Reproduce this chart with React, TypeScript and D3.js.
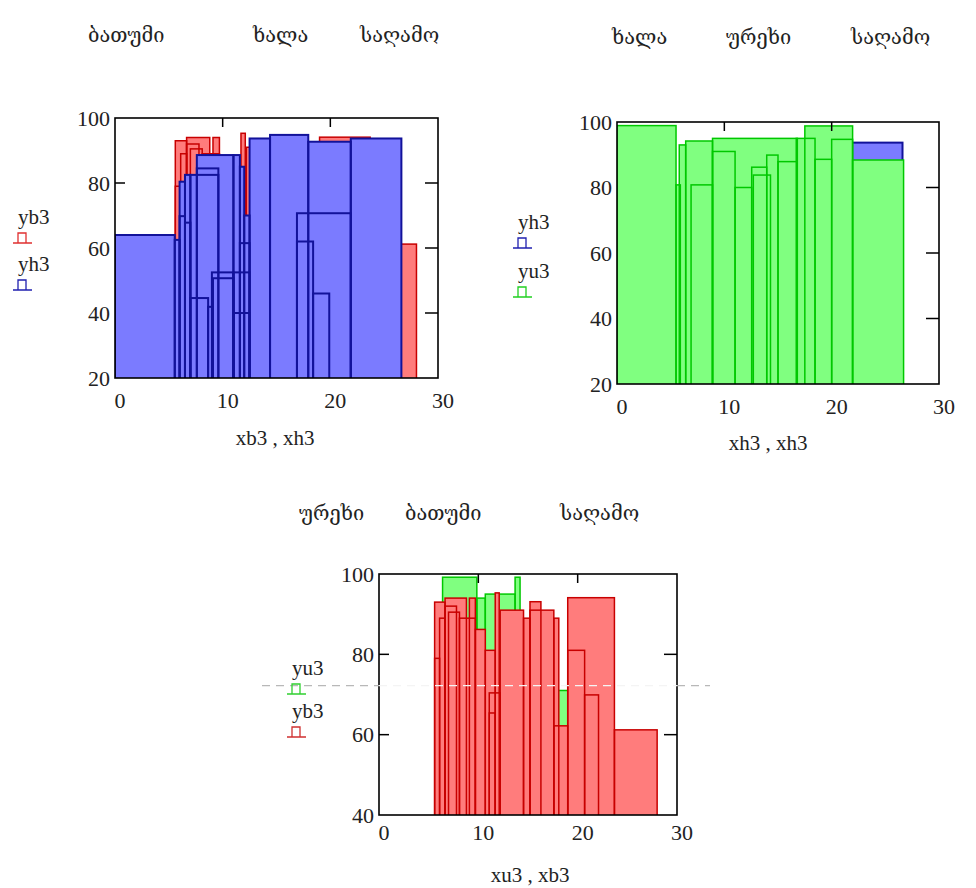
import React from "react";
import * as d3 from "d3";

// ---------- data ----------
const xTickValues = [0, 10, 20, 30];
const yTicksTop = [20, 40, 60, 80, 100];
const yTicksBottom = [40, 60, 80, 100];

// yb3 against xb3 (bar left edge, right edge, height)
const yb3Left = [5.6, 5.6, 6.1, 6.65, 6.65, 7.0, 8.1, 9.1, 9.7, 10.7, 11.1, 11.1, 11.7, 12.2, 14.55, 15.2, 15.2, 17.6, 17.6, 19.0, 19.0, 20.7, 23.7];
const yb3Right = [6.65, 6.1, 6.65, 8.8, 7.8, 8.1, 9.7, 9.7, 10.7, 11.7, 12.2, 11.7, 12.1, 14.55, 15.2, 16.3, 17.6, 18.1, 19.0, 23.7, 20.7, 22.1, 28.0];
const yb3 = [93, 79, 89, 94, 92, 90.5, 89, 94, 86.2, 81, 70.4, 65.4, 95.3, 91, 89, 93.1, 91, 89, 62.2, 94.1, 81, 69.9, 61.2];

// yh3 against xh3
const yh3Left = [0, 5.55, 6.0, 6.0, 6.5, 6.5, 7.0, 7.0, 7.6, 7.6, 8.65, 9.0, 9.1, 11.0, 11.0, 11.0, 11.6, 12.0, 11.6, 12.5, 14.4, 17.95, 16.9, 16.9, 18.4, 21.9];
const yh3Right = [5.55, 6.0, 6.5, 6.5, 7.0, 7.0, 9.6, 8.65, 9.6, 11.0, 9.05, 11.0, 11.0, 11.6, 12.5, 12.5, 12.0, 12.5, 12.5, 14.4, 17.95, 21.9, 21.9, 18.4, 19.9, 26.6];
const yh3 = [64, 62.5, 80.4, 69.8, 82.5, 67.8, 82.5, 44.6, 84.5, 88.6, 41.9, 52.5, 50.7, 88.6, 52.5, 40, 85, 70, 61.5, 93.7, 94.8, 92.7, 70.7, 62, 46, 93.7];

// yu3 against xh3
const yu3hLeft = [0, 5.5, 5.8, 6.4, 6.9, 8.9, 8.9, 11.0, 12.55, 12.7, 13.95, 15.0, 16.7, 17.5, 18.45, 20.0, 21.95];
const yu3hRight = [5.5, 5.9, 6.4, 8.9, 8.9, 16.8, 11.0, 12.55, 13.95, 14.3, 15.0, 16.75, 18.45, 21.95, 20.0, 21.95, 26.7];
const yu3h = [98.9, 80.8, 93, 94.2, 80.8, 95, 91, 80, 86.2, 83.8, 89.9, 87.9, 95, 98.8, 88.6, 94.7, 88.4];

// yu3 against xu3
const yu3Left = [6.4, 9.85, 10.7, 12.05, 13.7, 17.95];
const yu3Right = [9.85, 10.7, 12.05, 13.7, 14.2, 19.1];
const yu3 = [99.2, 94, 95, 95, 99.2, 71];

const markerValue = 72.2;

const titles1 = ["ბათუმი", "ხალა", "საღამო"];
const titles2 = ["ხალა", "ურეხი", "საღამო"];
const titles3 = ["ურეხი", "ბათუმი", "საღამო"];

// ---------- styles ----------
const RED = { fill: "#ff7c7c", stroke: "#c80000", sw: 1.5 };
const BLUE = { fill: "#7b7bff", stroke: "#12129a", sw: 2 };
const GREEN = { fill: "#80ff80", stroke: "#00c800", sw: 1.5 };
const SERIF = "'Liberation Serif', 'Times New Roman', serif";
const GEO = "'DejaVu Serif', 'DejaVu Sans', serif";

type Series = { left: number[]; right: number[]; height: number[]; fill: string; stroke: string; sw: number };

type PlotProps = {
  id: string;
  box: { x0: number; x1: number; y0: number; y1: number };
  yDomain: [number, number];
  yTicks: number[];
  series: Series[];
  xLabel: string;
  xLabelX: number;
  xLabelY: number;
  xTickLabelY: number;
};

function Plot({ id, box, yDomain, yTicks, series, xLabel, xLabelX, xLabelY, xTickLabelY }: PlotProps) {
  const x = d3.scaleLinear().domain([0, 30]).range([box.x0, box.x1]);
  const y = d3.scaleLinear().domain(yDomain).range([box.y1, box.y0]);
  const inner = xTickValues.filter((v) => v > 0 && v < 30);
  const innerY = yTicks.filter((v) => v > yDomain[0] && v < yDomain[1]);
  return (
    <g>
      <defs>
        <clipPath id={id}>
          <rect x={box.x0} y={box.y0} width={box.x1 - box.x0} height={box.y1 - box.y0} />
        </clipPath>
      </defs>
      {inner.map((v) => (
        <line key={"bt" + v} x1={x(v)} x2={x(v)} y1={box.y1} y2={box.y1 - 9} stroke="#000" strokeWidth={1.5} />
      ))}
      {innerY.map((v) => (
        <line key={"lt" + v} x1={box.x0} x2={box.x0 + 10} y1={y(v)} y2={y(v)} stroke="#000" strokeWidth={1.5} />
      ))}
      <g clipPath={`url(#${id})`}>
        {series.map((s, si) => (
          <g key={si}>
            {s.height.map((h, i) => (
              <rect
                key={"f" + i}
                x={x(s.left[i])}
                y={y(h)}
                width={x(s.right[i]) - x(s.left[i])}
                height={box.y1 + 5 - y(h)}
                fill={s.fill}
              />
            ))}
            {s.height.map((h, i) => (
              <rect
                key={"o" + i}
                x={x(s.left[i])}
                y={y(h)}
                width={x(s.right[i]) - x(s.left[i])}
                height={box.y1 + 5 - y(h)}
                fill="none"
                stroke={s.stroke}
                strokeWidth={s.sw}
              />
            ))}
          </g>
        ))}
      </g>
      {inner.map((v) => (
        <line key={"tt" + v} x1={x(v)} x2={x(v)} y1={box.y0} y2={box.y0 + 9} stroke="#000" strokeWidth={1.5} />
      ))}
      {innerY.map((v) => (
        <line key={"rt" + v} x1={box.x1} x2={box.x1 - 13} y1={y(v)} y2={y(v)} stroke="#000" strokeWidth={1.5} />
      ))}
      <rect x={box.x0} y={box.y0} width={box.x1 - box.x0} height={box.y1 - box.y0} fill="none" stroke="#000" strokeWidth={1.6} />
      {xTickValues.map((v) => (
        <text key={"xl" + v} x={x(v) + 5} y={xTickLabelY} textAnchor="middle" fontFamily={SERIF} fontSize={22} fill="#222">
          {v}
        </text>
      ))}
      {yTicks.map((v) => (
        <text key={"yl" + v} x={box.x0 - 5} y={y(v)} dy="0.35em" textAnchor="end" fontFamily={SERIF} fontSize={22} fill="#222">
          {v}
        </text>
      ))}
      <text x={xLabelX} y={xLabelY} textAnchor="middle" fontFamily={SERIF} fontSize={21} fill="#222">
        {xLabel}
      </text>
    </g>
  );
}

function LegendItem({ x, y, label, color }: { x: number; y: number; label: string; color: string }) {
  const sx = x - 5;
  const sy = y + 19;
  return (
    <g>
      <text x={x} y={y} fontFamily={SERIF} fontSize={21} fill="#222">
        {label}
      </text>
      <path
        d={`M${sx},${sy} H${sx + 19} M${sx + 5},${sy} V${sy - 10} H${sx + 13} V${sy}`}
        fill="none"
        stroke={color}
        strokeWidth={1.3}
      />
    </g>
  );
}

function Titles({ words, xs, y }: { words: string[]; xs: number[]; y: number }) {
  return (
    <g>
      {words.map((w, i) => (
        <text key={i} x={xs[i]} y={y} fontFamily={GEO} fontSize={20} fill="#222">
          {w}
        </text>
      ))}
    </g>
  );
}

export default function App() {
  const redB = { left: yb3Left, right: yb3Right, height: yb3, ...RED };
  const blueH = { left: yh3Left, right: yh3Right, height: yh3, ...BLUE };
  const greenH = { left: yu3hLeft, right: yu3hRight, height: yu3h, ...GREEN };
  const greenU = { left: yu3Left, right: yu3Right, height: yu3, ...GREEN };
  const box3 = { x0: 379, x1: 677, y0: 574, y1: 815 };
  const y3 = d3.scaleLinear().domain([40, 100]).range([box3.y1, box3.y0]);
  const my = y3(markerValue);
  return (
    <svg width={976} height={888} style={{ position: "absolute", left: 0, top: 0, background: "#fff" }}>
      <rect width={976} height={888} fill="#fff" />
      <Titles words={titles1} xs={[88, 253, 360]} y={42} />
      <Titles words={titles2} xs={[612, 726, 851]} y={44} />
      <Titles words={titles3} xs={[299, 405, 560]} y={520} />

      <Plot
        id="c1"
        box={{ x0: 115, x1: 438, y0: 118, y1: 378 }}
        yDomain={[20, 100]}
        yTicks={yTicksTop}
        series={[redB, blueH]}
        xLabel="xb3 , xh3"
        xLabelX={275}
        xLabelY={445}
        xTickLabelY={408}
      />
      <LegendItem x={18} y={224} label="yb3" color="#e03030" />
      <LegendItem x={18} y={271} label="yh3" color="#2020b0" />

      <Plot
        id="c2"
        box={{ x0: 617, x1: 939, y0: 122, y1: 384 }}
        yDomain={[20, 100]}
        yTicks={yTicksTop}
        series={[blueH, greenH]}
        xLabel="xh3 , xh3"
        xLabelX={768}
        xLabelY={450}
        xTickLabelY={414}
      />
      <LegendItem x={518} y={229} label="yh3" color="#2020b0" />
      <LegendItem x={518} y={278} label="yu3" color="#20d020" />

      <Plot
        id="c3"
        box={box3}
        yDomain={[40, 100]}
        yTicks={yTicksBottom}
        series={[greenU, redB]}
        xLabel="xu3 , xb3"
        xLabelX={530}
        xLabelY={882}
        xTickLabelY={840}
      />
      <line x1={262} x2={box3.x0} y1={my} y2={my} stroke="#b8b8b8" strokeWidth={1.2} strokeDasharray="8 6" />
      <line x1={box3.x0} x2={box3.x1} y1={my} y2={my} stroke="#f4f4f4" strokeWidth={1.4} strokeDasharray="8 6" />
      <line x1={box3.x1} x2={710} y1={my} y2={my} stroke="#b8b8b8" strokeWidth={1.2} strokeDasharray="8 6" />
      <LegendItem x={292} y={675} label="yu3" color="#30d030" />
      <LegendItem x={292} y={718} label="yb3" color="#d03030" />
    </svg>
  );
}
